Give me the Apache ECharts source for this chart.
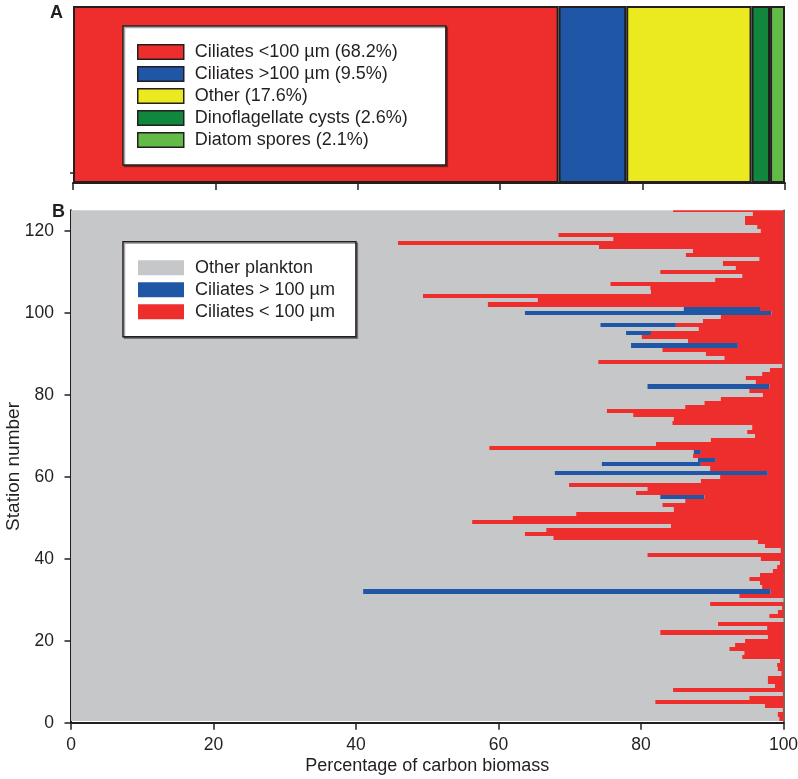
<!DOCTYPE html>
<html><head><meta charset="utf-8">
<script src="https://cdn.jsdelivr.net/npm/echarts@6/dist/echarts.min.js"></script>
<style>html,body{margin:0;padding:0;background:#fff}#c{width:798px;height:779px}</style>
</head><body><div id="c"></div>
<script>
// ---- Panel A: overall composition ----
const compNames = ['Ciliates <100 µm', 'Ciliates >100 µm', 'Other', 'Dinoflagellate cysts', 'Diatom spores'];
const compValues = [68.2, 9.5, 17.6, 2.6, 2.1];
const compColors = ['#ee2e2d', '#1f57a6', '#ebe91f', '#10873d', '#62bb47'];

// ---- Panel B: per-station percentages (stations 1..125, bottom to top) ----
const stationSeriesNames = ['Other plankton', 'Ciliates > 100 µm', 'Ciliates < 100 µm'];
const stationColors = ['#c6c7c8', '#1f57a6', '#ee2e2d'];
const otherPlankton = [
  99.4, 99.2, 99.9, 97.4, 82.0, 95.2, 99.9, 84.5, 98.8, 97.8,
  97.8, 99.7, 99.2, 99.1, 99.5, 94.2, 94.5, 92.4, 93.2, 94.6,
  97.8, 82.7, 97.7, 90.8, 100, 98.0, 99.2, 99.8, 89.7, 100,
  93.8, 41.0, 97.0, 96.7, 95.2, 96.7, 98.5, 99.1, 99.5, 96.8,
  80.9, 99.6, 97.4, 96.4, 67.7, 63.7, 66.7, 84.2, 56.3, 62.0,
  70.9, 84.6, 83.0, 86.2, 82.7, 79.3, 80.9, 69.9, 88.4, 91.1,
  67.9, 89.7, 74.5, 88.0, 87.3, 87.4, 58.7, 82.1, 89.8, 96.0,
  94.9, 95.6, 84.4, 84.6, 78.9, 75.2, 86.2, 88.9, 91.2, 97.1,
  95.2, 80.9, 96.1, 94.7, 97.0, 98.1, 99.8, 74.0, 91.7, 89.1,
  83.0, 78.6, 86.6, 80.1, 77.9, 88.1, 74.3, 88.7, 91.2, 63.7,
  86.0, 58.5, 65.5, 49.4, 81.4, 81.3, 75.7, 90.4, 94.2, 82.7,
  93.3, 91.5, 96.6, 86.3, 87.3, 74.1, 45.9, 76.1, 68.4, 96.8,
  96.3, 94.6, 94.6, 95.7, 84.5
];
const ciliatesLarge = [
  0, 0, 0, 0, 0, 0, 0, 0, 0, 0,
  0, 0, 0, 0, 0, 0, 0, 0, 0, 0,
  0, 0, 0, 0, 0, 0, 0, 0, 0, 0,
  0, 57.2, 0, 0, 0, 0, 0, 0, 0, 0,
  0, 0, 0, 0, 0, 0, 0, 0, 0, 0,
  0, 0, 0, 0, 6.2, 0, 0, 0, 0, 0,
  29.9, 0, 13.9, 2.5, 0, 1.0, 0, 0, 0, 0,
  0, 0, 0, 0, 0, 0, 0, 0, 0, 0,
  0, 17.1, 0, 0, 0, 0, 0, 0, 0, 0,
  0, 15.0, 0, 0, 3.5, 0, 10.6, 0, 0, 34.6,
  10.7, 0, 0, 0, 0, 0, 0, 0, 0, 0,
  0, 0, 0, 0, 0, 0, 0, 0, 0, 0,
  0, 0, 0, 0, 0
];
const ciliatesSmall = [
  0.6, 0.8, 0.1, 2.6, 18.0, 4.8, 0.1, 15.5, 1.2, 2.2,
  2.2, 0.3, 0.8, 0.9, 0.5, 5.8, 5.5, 7.6, 6.8, 5.4,
  2.2, 17.3, 2.3, 9.2, 0, 2.0, 0.8, 0.2, 10.3, 0,
  6.2, 1.8, 3.0, 3.3, 4.8, 3.3, 1.5, 0.9, 0.5, 3.2,
  19.1, 0.4, 2.6, 3.6, 32.3, 36.3, 33.3, 15.8, 43.7, 38.0,
  29.1, 15.4, 17.0, 13.8, 11.1, 20.7, 19.1, 30.1, 11.6, 8.9,
  2.2, 10.3, 11.6, 9.5, 12.7, 11.6, 41.3, 17.9, 10.2, 4.0,
  5.1, 4.4, 15.6, 15.4, 21.1, 24.8, 13.8, 11.1, 8.8, 2.9,
  4.8, 2.0, 3.9, 5.3, 3.0, 1.9, 0.2, 26.0, 8.3, 10.9,
  17.0, 6.4, 13.4, 19.9, 18.6, 11.9, 15.1, 11.3, 8.8, 1.7,
  3.3, 41.5, 34.5, 50.6, 18.6, 18.7, 24.3, 9.6, 5.8, 17.3,
  6.7, 8.5, 3.4, 13.7, 12.7, 25.9, 54.1, 23.9, 31.6, 3.2,
  3.7, 5.4, 5.4, 4.3, 15.5
];
const xTicks = [0, 20, 40, 60, 80, 100];
const yTicks = [0, 20, 40, 60, 80, 100, 120];

const INK = '#231f20';
const FONT = 'Liberation Sans, Arial, sans-serif';

// build stacked row data [station, start, end]
const rowsOther = [], rowsLarge = [], rowsSmall = [];
otherPlankton.forEach((g, i) => {
  const s = i + 1;
  const b = ciliatesLarge[i], r = ciliatesSmall[i];
  rowsOther.push([s, 0, g]);
  rowsLarge.push([s, g, g + b]);
  rowsSmall.push([s, g + b, g + b + r]);
});

function renderRow(color) {
  return function (params, api) {
    const st = api.value(0), x0 = api.value(1), x1 = api.value(2);
    if (x1 - x0 <= 0) return null;
    const p0 = api.coord([x0, st + 0.5]);
    const p1 = api.coord([x1, st - 0.5]);
    const cs = params.coordSys;
    const yTop = Math.round(p0[1]), yBot = Math.round(p1[1]);
    const shape = echarts.graphic.clipRectByRect(
      { x: p0[0], y: yTop, width: p1[0] - p0[0], height: yBot - yTop },
      { x: cs.x, y: Math.round(cs.y), width: cs.width, height: Math.round(cs.y + cs.height) - Math.round(cs.y) }
    );
    return shape && { type: 'rect', shape: shape, style: { fill: color } };
  };
}

const chart = echarts.init(document.getElementById('c'), null, { renderer: 'canvas' });

const seriesA = compNames.map((n, i) => ({
  type: 'bar', name: n + ' (' + compValues[i] + '%)', stack: 'comp',
  xAxisIndex: 0, yAxisIndex: 0, barWidth: '100%',
  data: [compValues[i]],
  itemStyle: { color: compColors[i], borderColor: INK, borderWidth: 2 },
  emphasis: { disabled: true }, silent: true
}));

const rowSets = [rowsOther, rowsLarge, rowsSmall];
const seriesB = stationSeriesNames.map((n, i) => ({
  type: 'custom', name: n, xAxisIndex: 1, yAxisIndex: 2,
  renderItem: renderRow(stationColors[i]),
  itemStyle: { color: stationColors[i] },
  encode: { x: [1, 2], y: 0 },
  data: rowSets[i], clip: true, silent: true, z: 2 + i
}));

const axisLineStyle = { color: INK, width: 2 };
const tickStyle = { color: INK, width: 1.5 };

chart.setOption({
  animation: false,
  backgroundColor: '#fff',
  textStyle: { fontFamily: FONT },
  grid: [
    { left: 73, right: 13, top: 6, height: 177, containLabel: false, outerBoundsMode: 'none' },
    { left: 71, right: 14.5, top: 210.2, height: 512.5, containLabel: false, outerBoundsMode: 'none' }
  ],
  xAxis: [
    { gridIndex: 0, type: 'value', min: 0, max: 100, interval: 20,
      axisLine: { show: true, lineStyle: axisLineStyle },
      axisTick: { show: true, length: 7, lineStyle: tickStyle },
      axisLabel: { show: false }, splitLine: { show: false } },
    { gridIndex: 1, type: 'value', min: 0, max: 100, interval: 20,
      axisLine: { show: true, lineStyle: axisLineStyle },
      axisTick: { show: true, length: 7, lineStyle: tickStyle, customValues: xTicks },
      axisLabel: { fontSize: 17.5, color: INK, margin: 13.5, fontFamily: FONT, customValues: xTicks },
      splitLine: { show: false },
      name: 'Percentage of carbon biomass', nameLocation: 'middle', nameGap: 34, nameMoveOverlap: false,
      nameTextStyle: { fontSize: 18, color: INK, fontFamily: FONT } }
  ],
  yAxis: [
    { gridIndex: 0, type: 'category', data: ['all'],
      axisLine: { show: false }, axisTick: { show: false }, axisLabel: { show: false } },
    { gridIndex: 0, type: 'value', min: 0, max: 1, position: 'left',
      axisLine: { show: false }, axisLabel: { show: false }, splitLine: { show: false },
      axisTick: { show: true, length: 3, lineStyle: tickStyle, customValues: [0.057] } },
    { gridIndex: 1, type: 'value', min: 0, max: 125,
      axisLine: { show: true, lineStyle: axisLineStyle },
      axisTick: { show: true, length: 6.5, lineStyle: tickStyle, customValues: yTicks },
      axisLabel: { fontSize: 17.5, color: INK, margin: 17, fontFamily: FONT, customValues: yTicks },
      splitLine: { show: false },
      name: 'Station number', nameLocation: 'middle', nameGap: 48, nameRotate: 90, nameMoveOverlap: false,
      nameTextStyle: { fontSize: 19, color: INK, fontFamily: FONT } },
    { gridIndex: 1, type: 'value', min: 0, max: 125, position: 'right',
      axisLine: { show: true, lineStyle: { color: '#3a3a3a', width: 1.5 } },
      axisTick: { show: false }, axisLabel: { show: false }, splitLine: { show: false } }
  ],
  legend: [
    { data: seriesA.map(s => s.name), orient: 'vertical', left: 123, top: 26,
      padding: [17, 38, 16, 14], itemWidth: 46, itemHeight: 14.5, itemGap: 4,
      backgroundColor: '#fff', borderColor: INK, borderWidth: 1.5,
      shadowColor: 'rgba(0,0,0,0.35)', shadowOffsetX: 1.5, shadowOffsetY: 1.5, shadowBlur: 0,
      icon: 'rect', selectedMode: false,
      itemStyle: { borderColor: INK, borderWidth: 1.5 },
      textStyle: { fontSize: 18, lineHeight: 18, color: INK, fontFamily: FONT, padding: [0, 0, 0, 6] } },
    { data: stationSeriesNames, orient: 'vertical', left: 123, top: 241.7,
      padding: [17, 21, 16, 15], itemWidth: 46, itemHeight: 15, itemGap: 4,
      backgroundColor: '#fff', borderColor: INK, borderWidth: 1.5,
      shadowColor: 'rgba(0,0,0,0.35)', shadowOffsetX: 1.5, shadowOffsetY: 1.5, shadowBlur: 0,
      icon: 'rect', selectedMode: false,
      itemStyle: { borderWidth: 0 },
      textStyle: { fontSize: 18, lineHeight: 18, color: INK, fontFamily: FONT, padding: [0, 0, 0, 6] } }
  ],
  graphic: [
    { type: 'text', left: 50, top: 4, style: { text: 'A', font: 'bold 18px ' + FONT, fill: INK } },
    { type: 'text', left: 52, top: 203.5, style: { text: 'B', font: 'bold 18px ' + FONT, fill: INK } }
  ],
  series: seriesA.concat(seriesB)
});
</script></body></html>
